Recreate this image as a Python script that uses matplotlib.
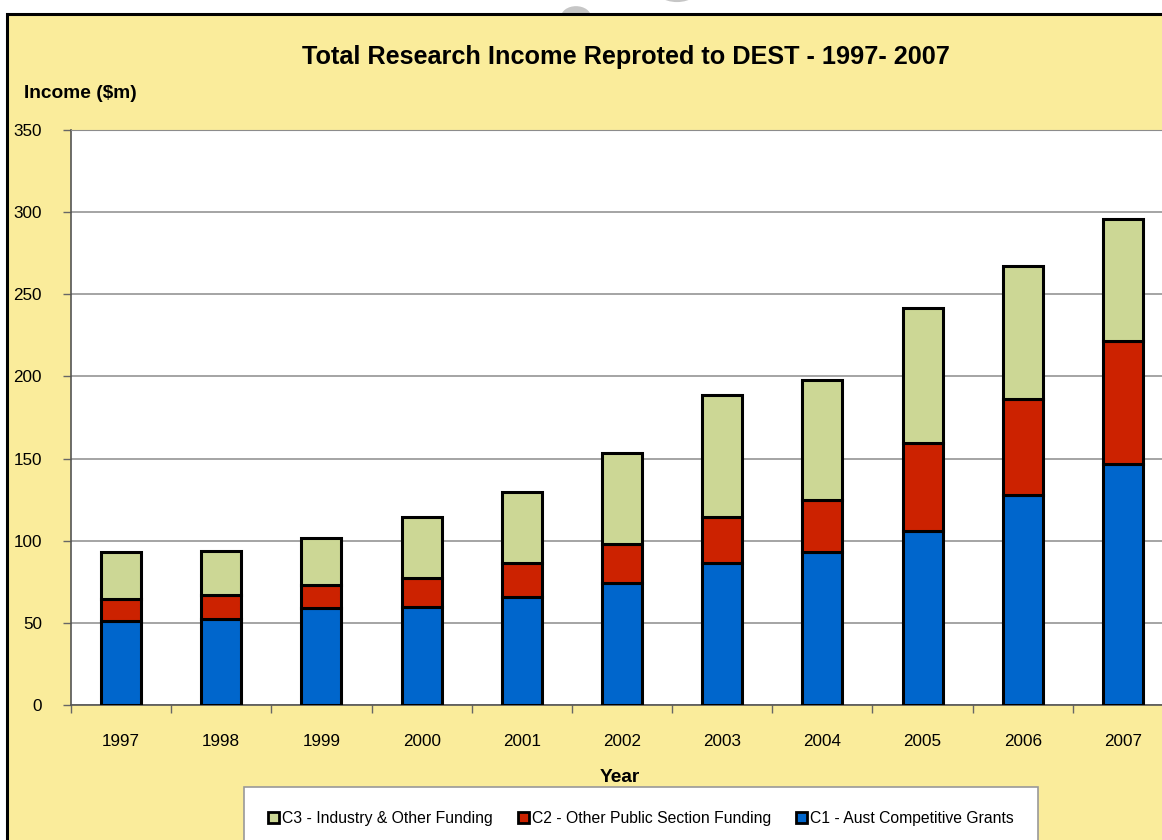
import matplotlib
matplotlib.use("Agg")
import matplotlib.pyplot as plt
from matplotlib.patches import Rectangle, Circle
import numpy as np

years = ["1997", "1998", "1999", "2000", "2001", "2002", "2003", "2004", "2005", "2006", "2007"]
c1_grants = [51.1, 52.2, 58.8, 59.8, 65.9, 74.4, 86.6, 93.1, 106.1, 128.0, 146.5]
c2_public = [13.4, 14.6, 14.2, 17.7, 20.3, 23.4, 28.0, 31.7, 53.5, 58.1, 74.9]
c3_industry = [28.4, 26.7, 28.8, 36.7, 43.6, 55.4, 74.1, 73.0, 82.2, 81.1, 74.2]
y_ticks = [0, 50, 100, 150, 200, 250, 300, 350]

W, H = 1162, 840
narrow = ['Liberation Sans Narrow', 'Liberation Sans', 'DejaVu Sans']
bold = ['Liberation Sans', 'DejaVu Sans']

fig = plt.figure(figsize=(W / 100, H / 100), dpi=100)
fig.patch.set_facecolor('white')

# watermark fragments
for (cx, cy, r) in [(576, 17, 15), (677, -16, 25)]:
    fig.add_artist(Circle((cx / W, 1 - cy / H), r / W, transform=fig.transFigure,
                          facecolor='#C6C6C6', edgecolor='none', zorder=0))

# yellow chart area box
fig.add_artist(Rectangle((7 / W, -0.1), 1.2, 1.1 - 14 / H, transform=fig.transFigure,
                         facecolor='#FAEC9B', edgecolor='black', linewidth=2.2, zorder=1))

ax = fig.add_axes([71 / W, 1 - 705 / H, (1173 - 71) / W, (705 - 130) / H])
ax.set_zorder(2)
ax.set_facecolor('white')

x = np.arange(len(years))
bw = 0.4
kw = dict(width=bw, edgecolor='black', linewidth=2.2, zorder=3)
b1 = ax.bar(x, c1_grants, color='#0066CC', **kw)
b2 = ax.bar(x, c2_public, bottom=c1_grants, color='#CC2200', **kw)
bot3 = np.array(c1_grants) + np.array(c2_public)
b3 = ax.bar(x, c3_industry, bottom=bot3, color='#CCD795', **kw)

ax.set_xlim(-0.5, len(years) - 0.5)
ax.set_ylim(0, 350)
ax.set_yticks(y_ticks)
ax.set_yticklabels([str(v) for v in y_ticks], family=narrow, fontsize=12.3)
ax.yaxis.grid(True, color='#8C8C8C', linewidth=1.1, zorder=1)
ax.set_axisbelow(True)

ax.set_xticks(x)
ax.set_xticklabels(years, family=narrow, fontsize=12.3)
ax.set_xticks(np.arange(-0.5, len(years), 1.0), minor=True)
ax.tick_params(axis='x', which='major', length=0, pad=21)
ax.tick_params(axis='x', which='minor', length=6, color='#666666', width=1)
ax.tick_params(axis='y', length=6, color='#666666', width=1, pad=15)

ax.spines['right'].set_visible(False)
ax.spines['top'].set_color('#8C8C8C')
ax.spines['left'].set_color('#555555')
ax.spines['bottom'].set_color('#555555')
ax.spines['left'].set_linewidth(1.2)
ax.spines['bottom'].set_linewidth(1.2)

fig.text(626 / W, 1 - 57 / H, "Total Research Income Reproted to DEST - 1997- 2007",
         ha='center', va='center', fontsize=18.2, fontweight='bold', family=bold, zorder=5)
fig.text(24 / W, 1 - 93 / H, "Income ($m)", ha='left', va='center', fontsize=13.8,
         fontweight='bold', family=bold, zorder=5)
fig.text(620 / W, 1 - 777 / H, "Year", ha='center', va='center', fontsize=13.8,
         fontweight='bold', family=bold, zorder=5)

leg = fig.legend([b3, b2, b1],
                 ["C3 - Industry & Other Funding", "C2 - Other Public Section Funding",
                  "C1 - Aust Competitive Grants"],
                 loc='upper center', bbox_to_anchor=(641 / W, 1 - 787 / H), ncol=3,
                 prop={'family': narrow, 'size': 11.3},
                 handlelength=0.7, handleheight=0.7, handletextpad=0.2,
                 columnspacing=1.6, borderpad=1.5, frameon=True, fancybox=False,
                 framealpha=1, borderaxespad=0)
leg.get_frame().set_edgecolor('#999999')
leg.get_frame().set_linewidth(1.2)
leg.get_frame().set_facecolor('white')
leg.set_zorder(6)
for h in leg.legend_handles:
    h.set_linewidth(2)

fig.savefig('out.png', dpi=100)
